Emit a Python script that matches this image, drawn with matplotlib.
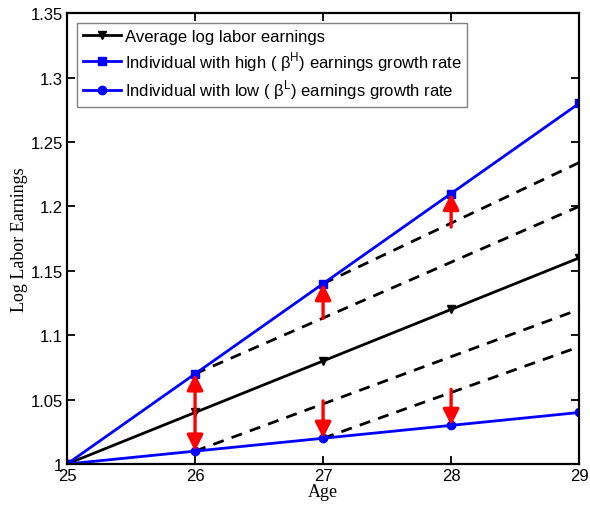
import matplotlib
matplotlib.use("Agg")
import matplotlib.pyplot as plt

age = [25, 26, 27, 28, 29]
avg_earn = [1.00, 1.04, 1.08, 1.12, 1.16]
high_earn = [1.00, 1.07, 1.14, 1.21, 1.28]
low_earn = [1.00, 1.01, 1.02, 1.03, 1.04]

# dashed projections: (start age, start value, end value at 29)
dashed = [(26, 1.07, 1.200), (27, 1.14, 1.234), (26, 1.01, 1.120), (27, 1.02, 1.091)]
# red arrows: (age, tail, head)
arrows = [(26, 1.04, 1.07), (26, 1.04, 1.01), (27, 1.113, 1.14), (28, 1.184, 1.21),
          (27, 1.049, 1.02), (28, 1.058, 1.03)]

yticks = [1.0, 1.05, 1.1, 1.15, 1.2, 1.25, 1.3, 1.35]
ylabels = ["1", "1.05", "1.1", "1.15", "1.2", "1.25", "1.3", "1.35"]

plt.rcParams["font.family"] = ["Liberation Sans", "DejaVu Sans"]
plt.rcParams["mathtext.fontset"] = "custom"
plt.rcParams["mathtext.rm"] = "Liberation Sans"

fig = plt.figure(figsize=(5.9, 5.06), dpi=100)
ax = fig.add_axes([0.1136, 0.081, 0.868, 0.891])

for x0, y0, y1 in dashed:
    ax.plot([x0, 29], [y0, y1], "k--", lw=2, dashes=(4, 3))

for x, t, h in arrows:
    ax.annotate("", xy=(x, h), xytext=(x, t),
                arrowprops=dict(arrowstyle="-|>,head_length=0.6,head_width=0.3", color="red",
                                lw=2.4, mutation_scale=16, shrinkA=0, shrinkB=0))

ax.plot(age, avg_earn, "k-", marker="v", ms=6, lw=2, label="Average log labor earnings")
ax.plot(age, high_earn, "-", color="blue", marker="s", ms=6, lw=2,
        label=r"Individual with high ( β$^{\mathrm{H}}$) earnings growth rate")
ax.plot(age, low_earn, "-", color="blue", marker="o", ms=6, lw=2,
        label=r"Individual with low ( β$^{\mathrm{L}}$) earnings growth rate")

ax.set_xlim(25, 29)
ax.set_ylim(1.0, 1.35)
ax.set_xticks(age)
ax.set_yticks(yticks)
ax.set_yticklabels(ylabels)
ax.tick_params(direction="in", top=True, right=True, labelsize=12, length=6, width=1.3, pad=3)
for s in ax.spines.values():
    s.set_linewidth(1.6)

ax.set_xlabel("Age", family="Liberation Serif", fontsize=13, labelpad=0)
ax.set_ylabel("Log Labor Earnings", family="Liberation Serif", fontsize=13, labelpad=2)

leg = ax.legend(loc="upper left", fontsize=12, handlelength=2.3, handletextpad=0.2,
                borderaxespad=0.6, labelspacing=0.3, borderpad=0.35,
                fancybox=False, framealpha=1)
leg.get_frame().set_edgecolor("gray")

fig.savefig("out.png", dpi=100)
